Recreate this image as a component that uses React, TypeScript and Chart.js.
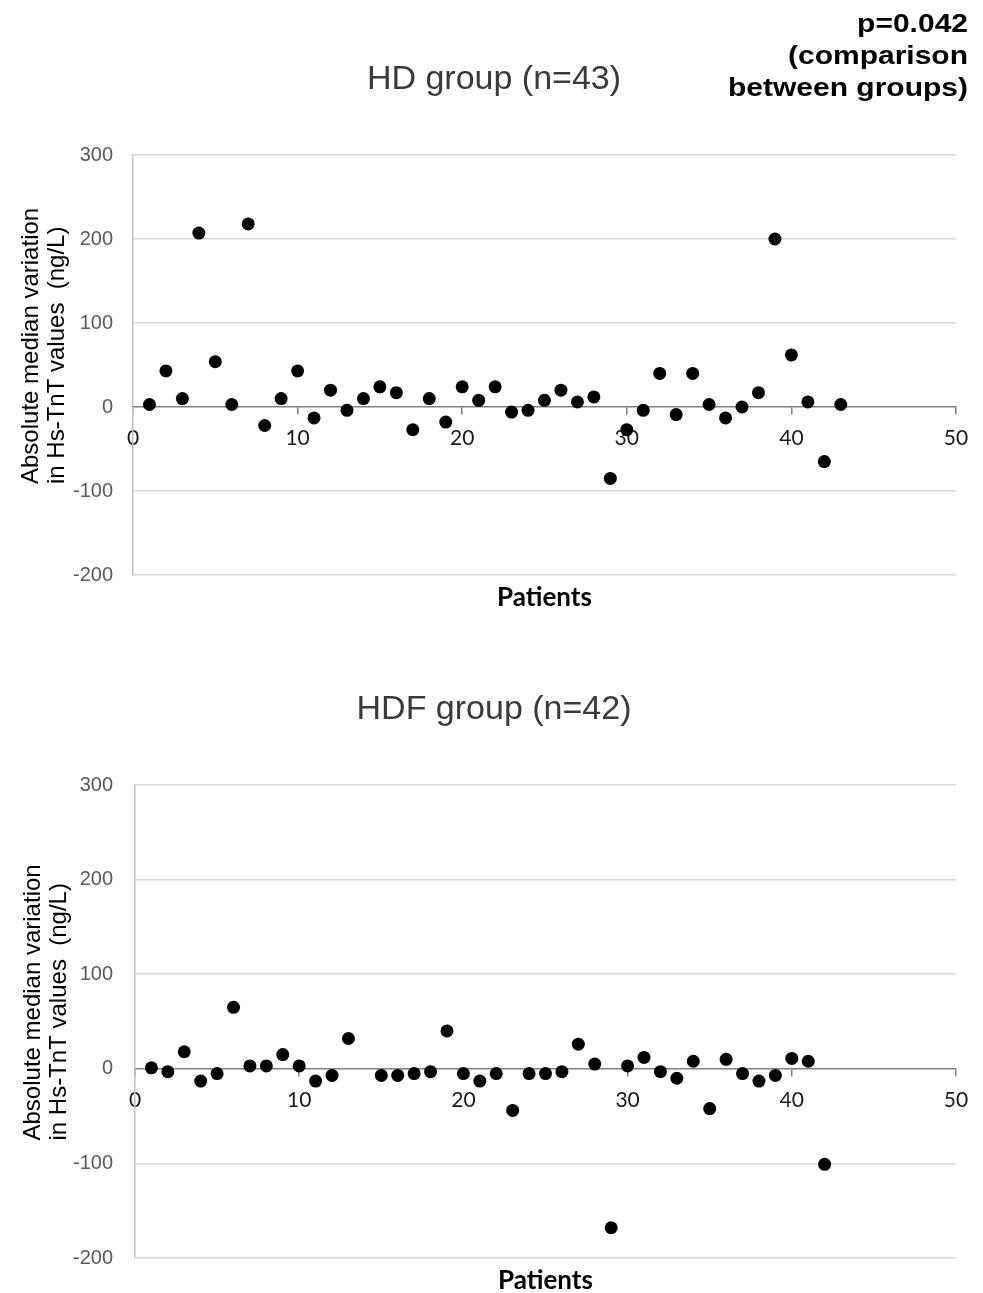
import React, { useEffect, useRef } from 'react';
import { Chart, registerables } from 'chart.js';

Chart.register(...registerables);

// ---- Data ----
const hdTitle = 'HD group (n=43)';
const hdfTitle = 'HDF group (n=42)';
const pValueLines = ['p=0.042', '(comparison', 'between groups)'];
const yTitleLines = ['Absolute median variation', 'in Hs-TnT values  (ng/L)'];
const xTitle = 'Patients';

const hdPatients = [1, 2, 3, 4, 5, 6, 7, 8, 9, 10, 11, 12, 13, 14, 15, 16, 17, 18, 19, 20, 21, 22, 23, 24, 25, 26, 27, 28, 29, 30, 31, 32, 33, 34, 35, 36, 37, 38, 39, 40, 41, 42, 43];
const hdValues = [3, 43, 10, 207, 54, 3, 218, -22, 10, 43, -13, 20, -4, 10, 24, 17, -27, 10, -18, 24, 8, 24, -6, -4, 8, 20, 6, 12, -85, -27, -4, 40, -9, 40, 3, -13, 0, 17, 200, 62, 6, -65, 3];

const hdfPatients = [1, 2, 3, 4, 5, 6, 7, 8, 9, 10, 11, 12, 13, 15, 16, 17, 18, 19, 20, 21, 22, 23, 24, 25, 26, 27, 28, 29, 30, 31, 32, 33, 34, 35, 36, 37, 38, 39, 40, 41, 42];
const hdfValues = [1, -3, 18, -13, -5, 65, 3, 3, 15, 3, -13, -7, 32, -7, -7, -5, -3, 40, -5, -13, -5, -44, -5, -5, -3, 26, 5, -168, 3, 12, -3, -10, 8, -42, 10, -5, -13, -7, 11, 8, -101];

const xMin = 0;
const xMax = 50;
const xStep = 10;
const yMin = -200;
const yMax = 300;
const yStep = 100;

const textPlugin = {
  id: 'panelText',
  afterDraw(chart: any, _args: any, opts: any) {
    const { ctx, chartArea } = chart;
    ctx.save();
    // group title
    ctx.font = '34px "Liberation Sans", Arial, sans-serif';
    ctx.fillStyle = '#3a3a3a';
    ctx.textAlign = 'center';
    ctx.textBaseline = 'alphabetic';
    ctx.fillText(opts.title, opts.titleX, chartArea.top - 66);

    // p-value block
    if (opts.pLines) {
      ctx.font = 'bold 25px "Liberation Sans", Arial, sans-serif';
      ctx.fillStyle = '#000';
      ctx.textAlign = 'right';
      const baselines = [32, 64, 96];
      opts.pLines.forEach((l: string, i: number) => {
        ctx.save();
        ctx.translate(968, baselines[i]);
        ctx.scale(1.2, 1);
        ctx.fillText(l, 0, 0);
        ctx.restore();
      });
    }

    // rotated y-axis title
    const cy = (chartArea.top + chartArea.bottom) / 2 + 119;
    ctx.font = '24px "Liberation Sans", Arial, sans-serif';
    ctx.fillStyle = '#000';
    ctx.textAlign = 'left';
    ctx.textBaseline = 'middle';
    const xs = opts.yTitleX;
    yTitleLines.forEach((l, i) => {
      ctx.save();
      ctx.translate(xs[i], cy);
      ctx.rotate(-Math.PI / 2);
      ctx.fillText(l, 0, 0);
      ctx.restore();
    });
    ctx.restore();
  },
};

function makeConfig(patients: number[], values: number[], title: string, dims: any, pLines: string[] | null): any {
  const data = patients.map((p, i) => ({ x: p, y: values[i] }));
  return {
    type: 'scatter',
    data: {
      datasets: [
        {
          label: title,
          data,
          backgroundColor: '#000',
          borderColor: '#000',
          borderWidth: 0,
          pointRadius: 6.5,
          pointHoverRadius: 6.5,
        },
      ],
    },
    plugins: [textPlugin],
    options: {
      responsive: false,
      animation: false,
      events: [],
      layout: { padding: { top: dims.top, right: 27, left: 0, bottom: 0 } },
      plugins: {
        legend: { display: false },
        tooltip: { enabled: false },
        title: { display: false },
        panelText: { title, titleX: 494, pLines, yTitleX: dims.yTitleX },
      },
      scales: {
        x: {
          type: 'linear',
          position: { y: 0 },
          min: xMin,
          max: xMax,
          ticks: {
            stepSize: xStep,
            autoSkip: false,
            maxRotation: 0,
            padding: 12,
            color: '#1a1a1a',
            font: { family: 'Lato, "Open Sans", sans-serif', size: 21 },
          },
          grid: {
            drawOnChartArea: false,
            drawTicks: true,
            tickLength: 7,
            color: '#808080',
            lineWidth: 1.5,
          },
          border: { display: true, color: '#808080', width: 1.5 },
        },
        xTitle: {
          type: 'linear',
          axis: 'x',
          position: 'bottom',
          min: xMin,
          max: xMax,
          ticks: { display: false },
          grid: { display: false },
          border: { display: false },
          title: {
            display: true,
            text: xTitle,
            color: '#000',
            font: { family: 'Lato, "Open Sans", sans-serif', size: 26, weight: 'bold', lineHeight: 1 },
            padding: { top: 0, bottom: dims.xTitlePad },
          },
          afterFit: (scale: any) => {
            scale.height = dims.bottomSpace;
          },
        },
        y: {
          type: 'linear',
          position: 'left',
          min: yMin,
          max: yMax,
          ticks: {
            stepSize: yStep,
            padding: dims.yTickPad,
            color: '#595959',
            font: { family: '"Liberation Sans", Arial, sans-serif', size: 20 },
          },
          grid: {
            drawTicks: false,
            color: (c: any) => (c.tick && c.tick.value === 0 ? 'rgba(0,0,0,0)' : '#d9d9d9'),
            lineWidth: 1.5,
          },
          border: { display: true, color: '#c0c0c0', width: 1.5 },
          afterFit: (scale: any) => {
            scale.width = dims.left;
          },
        },
      },
    },
  };
}

export default function App() {
  const topRef = useRef<HTMLCanvasElement | null>(null);
  const botRef = useRef<HTMLCanvasElement | null>(null);

  useEffect(() => {
    const c1 = new Chart(
      topRef.current as HTMLCanvasElement,
      makeConfig(hdPatients, hdValues, hdTitle, { top: 155, left: 133, bottomSpace: 55, xTitlePad: 19, yTickPad: 20, yTitleX: [31, 57] }, pValueLines)
    );
    const c2 = new Chart(
      botRef.current as HTMLCanvasElement,
      makeConfig(hdfPatients, hdfValues, hdfTitle, { top: 155, left: 135, bottomSpace: 35, xTitlePad: -1, yTickPad: 22, yTitleX: [33, 59] }, null)
    );
    return () => {
      c1.destroy();
      c2.destroy();
    };
  }, []);

  return (
    <div style={{ position: 'absolute', left: 0, top: 0, width: 983, height: 1293, background: '#fff', overflow: 'hidden' }}>
      <canvas ref={topRef} width={983} height={630} style={{ position: 'absolute', left: 0, top: 0, width: 983, height: 630 }} />
      <canvas ref={botRef} width={983} height={663} style={{ position: 'absolute', left: 0, top: 630, width: 983, height: 663 }} />
    </div>
  );
}
